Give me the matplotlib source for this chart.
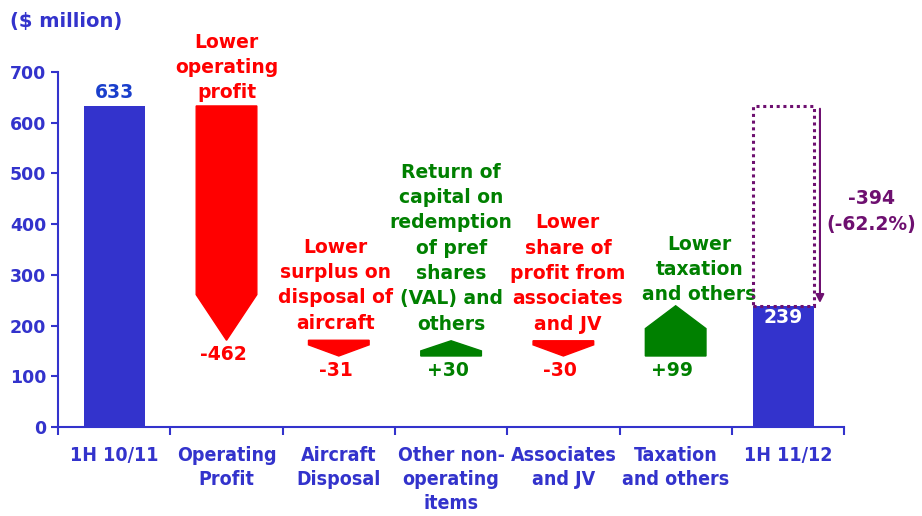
import numpy as np
import matplotlib.pyplot as plt
from matplotlib.patches import Polygon, Rectangle

# Данные
categories = ['1H 10/11', 'Operating\nProfit', 'Aircraft\nDisposal', 'Other non-\noperating\nitems',
              'Associates\nand JV', 'Taxation\nand others', '1H 11/12']
start_value = 633
changes = [-462, -31, 30, -30, 99]
end_value = 239
change_labels = ['-462', '-31', '+30', '-30', '+99']
notes = ['Lower\noperating\nprofit', 'Lower\nsurplus on\ndisposal of\naircraft',
         'Return of\ncapital on\nredemption\nof pref\nshares\n(VAL) and\nothers',
         'Lower\nshare of\nprofit from\nassociates\nand JV', 'Lower\ntaxation\nand others']
diff_label = '-394\n(-62.2%)'

BLUE = '#3333CC'
RED = '#FF0000'
GREEN = '#008000'
PURPLE = '#6E1070'

fig = plt.figure(figsize=(9.22, 5.16), dpi=100)
ax = fig.add_axes([0.063, 0.1725, 0.8525, 0.688])

x = np.arange(len(categories))
w = 0.54

# начальный и конечный столбцы
ax.bar(x[0], start_value, width=w, color=BLUE, zorder=2)
ax.bar(x[-1] - 0.04, end_value, width=w, color=BLUE, zorder=2)
ax.text(x[0], start_value + 8, str(start_value), ha='center', va='bottom',
        color='#1A3FCC', fontsize=13.5, fontweight='bold')
ax.text(x[-1] - 0.04, end_value - 5, str(end_value), ha='center', va='top',
        color='white', fontsize=13.5, fontweight='bold')

# стрелки
heads = [90, 22, 20, 22, 45]
note_y = [640, 186, 184, 184, 242]
note_dx = [0, -0.03, 0.0, 0.04, 0.21]
level = start_value
for i, d in enumerate(changes):
    xi = x[i + 1]
    new = level + d
    col = RED if d < 0 else GREEN
    s = np.sign(d)
    h = heads[i]
    pts = [(xi - w / 2, level), (xi + w / 2, level), (xi + w / 2, new - s * h),
           (xi, new), (xi - w / 2, new - s * h)]
    ax.add_patch(Polygon(pts, closed=True, color=col, zorder=2))
    low = min(level, new)
    ax.text(xi - 0.03, low - 10, change_labels[i], ha='center', va='top',
            color=col, fontsize=13.5, fontweight='bold')
    ax.text(xi + note_dx[i], note_y[i], notes[i], ha='center', va='bottom', color=col,
            fontsize=13.5, fontweight='bold', linespacing=1.42)
    level = new

# пунктирный прямоугольник и стрелка разницы
xr = x[-1] - 0.04
ax.add_patch(Rectangle((xr - w / 2, end_value), w, start_value - end_value, fill=False,
                       edgecolor=PURPLE, linestyle=(0, (1, 1.2)), linewidth=2.2, zorder=3))
ax.annotate('', xy=(xr + w / 2 + 0.055, end_value), xytext=(xr + w / 2 + 0.055, start_value),
            arrowprops=dict(arrowstyle='-|>', color=PURPLE, lw=1.5, mutation_scale=12),
            annotation_clip=False)
ax.text(x[-1] + 0.74, 425, diff_label, ha='center', va='center', color=PURPLE,
        fontsize=13.5, fontweight='bold', clip_on=False, linespacing=1.45)

ax.set_xlim(-0.5, 6.5)
ax.set_ylim(0, 700)
ax.set_yticks(np.arange(0, 701, 100))
ax.set_xticks(x)
ax.set_xticklabels(categories, family='DejaVu Sans', fontstretch='condensed',
                   fontsize=14, fontweight='bold', color=BLUE, linespacing=1.32)
ax.set_xticks(np.arange(-0.5, 7, 1), minor=True)
ax.tick_params(axis='x', which='major', length=0, pad=14)
ax.tick_params(axis='x', which='minor', length=6, width=1.5, color=BLUE, direction='out')
ax.tick_params(axis='y', length=5, width=1.5, color=BLUE, labelcolor=BLUE, labelsize=12.5)
for lab in ax.get_yticklabels():
    lab.set_fontweight('bold')
for side in ['top', 'right']:
    ax.spines[side].set_visible(False)
for side in ['left', 'bottom']:
    ax.spines[side].set_color(BLUE)
    ax.spines[side].set_linewidth(1.5)

fig.text(0.011, 0.958, '($ million)', color=BLUE, fontsize=14, fontweight='bold',
         ha='left', va='center')

fig.savefig('out.png', dpi=100)
